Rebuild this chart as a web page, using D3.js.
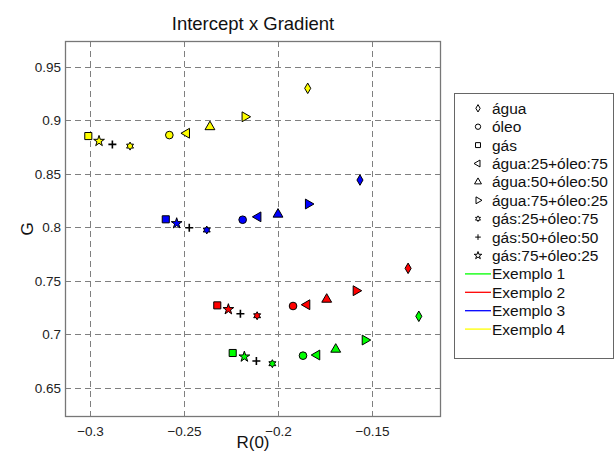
<!DOCTYPE html>
<html>
<head>
<meta charset="utf-8">
<script src="https://cdn.jsdelivr.net/npm/d3@7"></script>
<style>
    body { margin: 0; background: #fff; }
    svg { display: block; font-family: Arial, "Liberation Sans", sans-serif; }
</style>
</head>
<body>
<svg id="chart" width="614" height="453"></svg>
<script>
(function () {

    // marker order used by every series
    const markers = ['água', 'óleo', 'gás', 'água:25+óleo:75', 'água:50+óleo:50', 'água:75+óleo:25', 'gás:25+óleo:75', 'gás:50+óleo:50', 'gás:75+óleo:25'];
    const examples = ['Exemplo 1', 'Exemplo 2', 'Exemplo 3', 'Exemplo 4'];
    const exampleColors = ['#00ff00', '#ff0000', '#0000ff', '#ffff00'];

    const r0Ex1 = [-0.1251, -0.1867, -0.2241, -0.1793, -0.1693, -0.1537, -0.2030, -0.2115, -0.2179];
    const gEx1 = [0.7170, 0.6802, 0.6827, 0.6808, 0.6861, 0.6948, 0.6727, 0.6752, 0.6792];
    const r0Ex2 = [-0.1308, -0.1920, -0.2323, -0.1846, -0.1741, -0.1585, -0.2111, -0.2200, -0.2264];
    const gEx2 = [0.7618, 0.7266, 0.7272, 0.7278, 0.7328, 0.7409, 0.7175, 0.7194, 0.7235];
    const r0Ex3 = [-0.1564, -0.2188, -0.2597, -0.2106, -0.2000, -0.1839, -0.2379, -0.2472, -0.2539];
    const gEx3 = [0.8443, 0.8072, 0.8076, 0.8099, 0.8123, 0.8219, 0.7976, 0.7997, 0.8038];
    const r0Ex4 = [-0.1842, -0.2578, -0.3009, -0.2486, -0.2362, -0.2176, -0.2787, -0.2881, -0.2952];
    const gEx4 = [0.9300, 0.8863, 0.8854, 0.8880, 0.8940, 0.9034, 0.8760, 0.8776, 0.8807];

    const xTicks = [-0.3, -0.25, -0.2, -0.15];
    const yTicks = [0.65, 0.7, 0.75, 0.8, 0.85, 0.9, 0.95];

    const series = [[r0Ex1, gEx1], [r0Ex2, gEx2], [r0Ex3, gEx3], [r0Ex4, gEx4]];

    const plot = { left: 65, right: 441, top: 41, bottom: 417 };

    const svg = d3.select('#chart');

    const x = d3.scaleLinear().domain([-0.3133, -0.1133]).range([plot.left, plot.right]);
    const y = d3.scaleLinear().domain([0.6229, 0.9742]).range([plot.bottom, plot.top]);

    // marker shapes, matlab style
    const tri = d3.symbol().type(d3.symbolTriangle);
    const hexagram = (r) => {
        let pts = [];
        for (let i = 0; i < 12; i++) {
            const a = i * Math.PI / 6 - Math.PI / 2;
            const rr = i % 2 === 0 ? r : r * 0.55;
            pts.push([rr * Math.cos(a), rr * Math.sin(a)]);
        }
        return 'M' + pts.map(p => p.join(',')).join('L') + 'Z';
    };
    const plus = (r) => `M${-r},0H${r}M0,${-r}V${r}`;

    const shapes = [
        { path: (s) => d3.symbol().type(d3.symbolDiamond).size(32 * s * s)(), rot: 0 },
        { path: (s) => d3.symbol().type(d3.symbolCircle).size(46 * s * s)(), rot: 0 },
        { path: (s) => d3.symbol().type(d3.symbolSquare).size(50 * s * s)(), rot: 0 },
        { path: (s) => tri.size(42 * s * s)(), rot: -90 },
        { path: (s) => tri.size(42 * s * s)(), rot: 0 },
        { path: (s) => tri.size(42 * s * s)(), rot: 90 },
        { path: (s) => hexagram(4 * s), rot: 0 },
        { path: (s) => plus(4 * s), rot: 0, noFill: true },
        { path: (s) => d3.symbol().type(d3.symbolStar).size(36 * s * s)(), rot: 0 }
    ];

    // title
    svg.append('text')
        .attr('x', (plot.left + plot.right) / 2)
        .attr('y', 30)
        .attr('text-anchor', 'middle')
        .attr('font-size', 18.5)
        .attr('fill', '#111')
        .text('Intercept x Gradient');

    // grid
    const grid = svg.append('g')
        .attr('stroke', '#7f7f7f')
        .attr('stroke-dasharray', '6,4')
        .attr('stroke-width', 1);

    grid.selectAll('.vx')
        .data(xTicks)
        .enter().append('line')
        .attr('x1', d => Math.round(x(d)) + 0.5)
        .attr('x2', d => Math.round(x(d)) + 0.5)
        .attr('y1', plot.top)
        .attr('y2', plot.bottom);

    grid.selectAll('.hy')
        .data(yTicks)
        .enter().append('line')
        .attr('y1', d => Math.round(y(d)) + 0.5)
        .attr('y2', d => Math.round(y(d)) + 0.5)
        .attr('x1', plot.left)
        .attr('x2', plot.right);

    // axes
    const xAxis = svg.append('g')
        .attr('transform', `translate(0, ${plot.bottom})`)
        .call(d3.axisBottom(x).tickValues(xTicks).tickSize(0).tickPadding(9).tickFormat(d3.format('')));
    const yAxis = svg.append('g')
        .attr('transform', `translate(${plot.left}, 0)`)
        .call(d3.axisLeft(y).tickValues(yTicks).tickSize(0).tickPadding(4).tickFormat(d3.format('')));

    [xAxis, yAxis].forEach(ax => {
        ax.select('.domain').remove();
        ax.selectAll('text').attr('font-size', 13.5).attr('fill', '#222').attr('font-family', 'Arial, "Liberation Sans", sans-serif');
    });

    svg.append('rect')
        .attr('x', plot.left + 0.5)
        .attr('y', plot.top + 0.5)
        .attr('width', plot.right - plot.left - 1)
        .attr('height', plot.bottom - plot.top - 1)
        .attr('fill', 'none')
        .attr('stroke', '#777')
        .attr('stroke-width', 1.3);

    svg.append('text')
        .attr('x', (plot.left + plot.right) / 2)
        .attr('y', 448)
        .attr('text-anchor', 'middle')
        .attr('font-size', 17)
        .attr('fill', '#111')
        .text('R(0)');

    svg.append('text')
        .attr('transform', `translate(33, ${(plot.top + plot.bottom) / 2}) rotate(-90)`)
        .attr('text-anchor', 'middle')
        .attr('font-size', 17)
        .attr('fill', '#111')
        .text('G');

    // points
    const pointsGroup = svg.append('g');
    series.forEach(([xs, ys], si) => {
        xs.forEach((v, i) => {
            const shape = shapes[i];
            pointsGroup.append('path')
                .attr('d', shape.path(1))
                .attr('transform', `translate(${x(v)}, ${y(ys[i])}) rotate(${shape.rot})`)
                .attr('fill', shape.noFill ? 'none' : exampleColors[si])
                .attr('stroke', '#000')
                .attr('stroke-width', shape.noFill ? 1.6 : 1);
        });
    });

    // legend
    const legend = svg.append('g');
    legend.append('rect')
        .attr('x', 454.5)
        .attr('y', 93.5)
        .attr('width', 159)
        .attr('height', 265)
        .attr('fill', '#fff')
        .attr('stroke', '#666')
        .attr('stroke-width', 1);

    const rowY = (i) => 108.3 + i * 18.4;

    markers.forEach((name, i) => {
        const shape = shapes[i];
        legend.append('path')
            .attr('d', shape.path(0.7))
            .attr('transform', `translate(478, ${rowY(i)}) rotate(${shape.rot})`)
            .attr('fill', shape.noFill ? 'none' : '#fff')
            .attr('stroke', '#000')
            .attr('stroke-width', 1);
        legend.append('text')
            .attr('x', 492)
            .attr('y', rowY(i))
            .attr('dy', '0.36em')
            .attr('font-size', 15.5)
            .attr('fill', '#111')
            .text(name);
    });

    examples.forEach((name, j) => {
        const i = markers.length + j;
        legend.append('line')
            .attr('x1', 465)
            .attr('x2', 491)
            .attr('y1', rowY(i))
            .attr('y2', rowY(i))
            .attr('stroke', exampleColors[j])
            .attr('stroke-width', 1.3);
        legend.append('text')
            .attr('x', 492)
            .attr('y', rowY(i))
            .attr('dy', '0.36em')
            .attr('font-size', 15.5)
            .attr('fill', '#111')
            .text(name);
    });

})();
</script>
</body>
</html>
